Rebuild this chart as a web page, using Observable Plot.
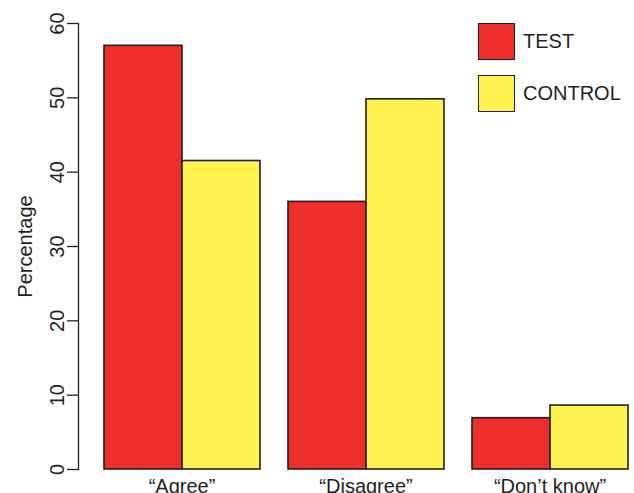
<!DOCTYPE html>
<html><head><meta charset="utf-8">
<script src="https://cdn.jsdelivr.net/npm/d3@7"></script>
<script src="https://cdn.jsdelivr.net/npm/@observablehq/plot@0.6"></script>
<style>
body{margin:0;background:#fff}
#wrap{position:relative;width:634px;height:493px;overflow:hidden;font-family:"Liberation Sans",Arial,sans-serif;color:#231F20}
.lg{position:absolute;left:478px;display:flex;align-items:center;font-size:20px}
.lg span.sw{display:inline-block;width:35px;height:35px;border:1.6px solid #231F20;margin-right:8px}
</style>
</head><body><div id="wrap"></div>
<script>
const categories = ["“Agree”", "“Disagree”", "“Don’t know”"];
const series = ["TEST", "CONTROL"];
const testValues = [57, 36, 6.9];
const controlValues = [41.5, 49.8, 8.6];
const yTicks = [0, 10, 20, 30, 40, 50, 60];
const colors = ["#EE2E2B", "#FFF24F"];

const data = categories.flatMap((c, i) => [
  {category: c, series: series[0], value: testValues[i]},
  {category: c, series: series[1], value: controlValues[i]}
]);

const chart = Plot.plot({
  width: 634, height: 493,
  marginLeft: 102, marginRight: 5, marginTop: 23, marginBottom: 24,
  style: {fontFamily: "'Liberation Sans', Arial, sans-serif", fontSize: "20px", color: "#231F20", background: "white", overflow: "visible"},
  fx: {domain: categories, paddingInner: 0.149, paddingOuter: 0, label: null, axis: null},
  x: {domain: series, padding: 0, axis: null},
  y: {domain: [0, 60], label: null, axis: null},
  color: {domain: series, range: colors},
  marks: [
    Plot.barY(data, {fx: "category", x: "series", y: "value", fill: "series", stroke: "#231F20", strokeWidth: 1.6}),
    Plot.axisFx({anchor: "bottom", tickSize: 0, tickPadding: 9, label: null, fontSize: 20}),
    Plot.axisY({ticks: yTicks, tickSize: 11, tickPadding: 4, tickRotate: -90, dx: -25, strokeWidth: 1.3,
      label: "Percentage", labelArrow: "none", labelAnchor: "center", labelOffset: 86, fontSize: 20}),
    Plot.frame({anchor: "left", dx: -25, facetAnchor: "left", stroke: "#231F20", strokeWidth: 1.3})
  ]
});

const wrap = document.getElementById("wrap");
wrap.appendChild(chart);
series.forEach((s, i) => {
  const d = document.createElement("div");
  d.className = "lg";
  d.style.top = (23 + i * 52) + "px";
  const sw = document.createElement("span");
  sw.className = "sw";
  sw.style.background = colors[i];
  d.appendChild(sw);
  d.appendChild(document.createTextNode(s));
  wrap.appendChild(d);
});
</script>
</body></html>
